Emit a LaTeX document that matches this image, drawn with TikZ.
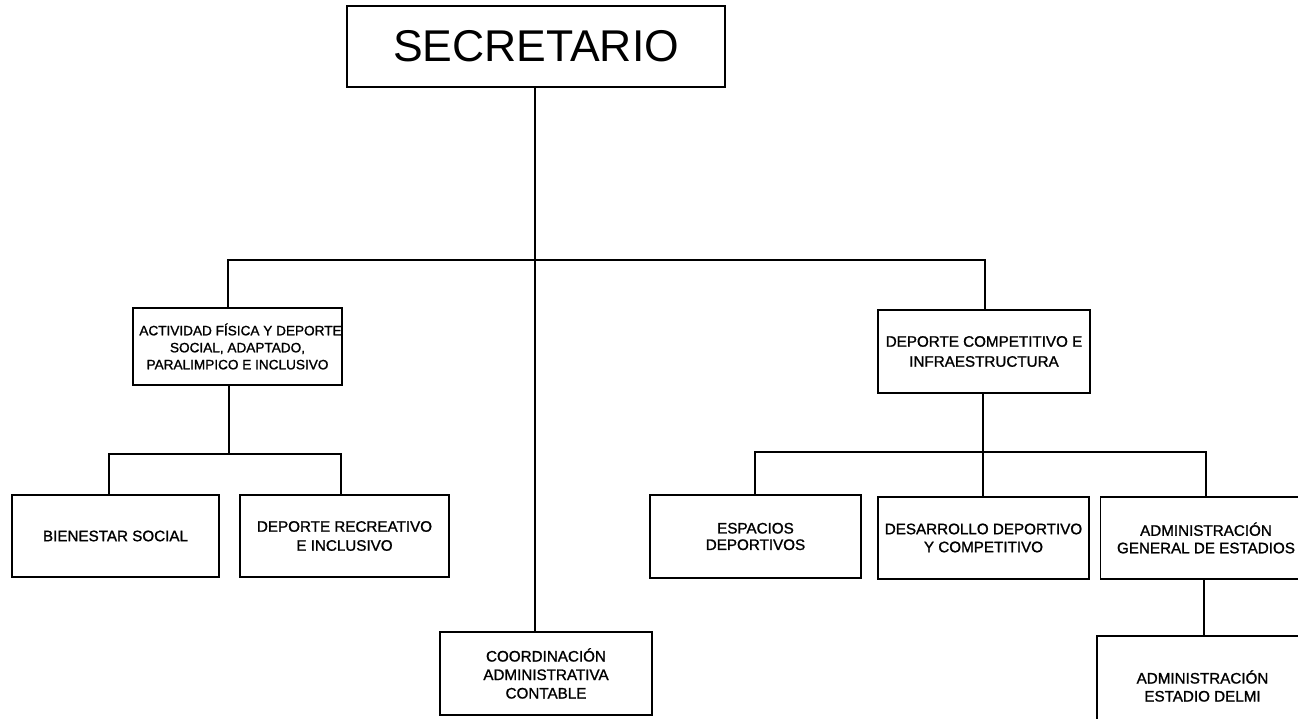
\documentclass[tikz,border=0pt]{standalone}
\usepackage{fontspec}
\setmainfont{Liberation Sans}
\newfontfamily\medfont[FakeBold=1.2]{Liberation Sans}
\begin{document}
\begin{tikzpicture}[x=1pt,y=-1pt,
  box/.style={draw, line width=1.3pt, inner sep=0pt, align=center, fill=white},
  conn/.style={draw, line width=1.3pt},
  txt/.style={font=\medfont\fontsize{15.2}{18}\selectfont}]
\useasboundingbox (0,0) rectangle (1298,719);
\clip (0,0) rectangle (1298,719);
\fill[white] (0,0) rectangle (1298,719);

% nodes
\node[box, minimum width=378pt, minimum height=81pt, font=\fontsize{44.5}{50}\selectfont] (sec) at (536,46.5) {SECRETARIO};

\node[box, minimum width=209pt, minimum height=77pt, font=\medfont\fontsize{13.6}{17}\selectfont] (act) at (237.5,346.5) {\hspace*{6pt}ACTIVIDAD FÍSICA Y DEPORTE\\ SOCIAL, ADAPTADO,\\ PARALIMPICO E INCLUSIVO};

\node[box, minimum width=207pt, minimum height=82pt, txt] (bien) at (115.5,536) {BIENESTAR SOCIAL};
\node[box, minimum width=209pt, minimum height=82pt, font=\medfont\fontsize{15.2}{19}\selectfont] (drec) at (344.5,536) {DEPORTE RECREATIVO\\ E INCLUSIVO};

\node[box, minimum width=212pt, minimum height=83pt, font=\medfont\fontsize{15.2}{20}\selectfont] (dcomp) at (984,351.5) {DEPORTE COMPETITIVO E\\ INFRAESTRUCTURA};

\node[box, minimum width=211pt, minimum height=83pt, font=\medfont\fontsize{15.2}{16.5}\selectfont] (esp) at (755.5,536.5) {ESPACIOS\\ DEPORTIVOS};
\node[box, minimum width=211pt, minimum height=82pt, txt] (des) at (983.5,538) {DESARROLLO DEPORTIVO\\ Y COMPETITIVO};
\node[box, minimum width=211pt, minimum height=82pt, font=\medfont\fontsize{15.2}{17.5}\selectfont] (age) at (1206,538) {ADMINISTRACIÓN\\ GENERAL DE ESTADIOS};
\node[box, minimum width=211pt, minimum height=100pt, txt] (edel) at (1202.5,686) {ADMINISTRACIÓN\\ ESTADIO DELMI};

\node[box, minimum width=212pt, minimum height=83pt, font=\medfont\fontsize{15.2}{18.5}\selectfont] (coord) at (546,673.5) {COORDINACIÓN\\ ADMINISTRATIVA\\ CONTABLE};

% junction coordinates
\coordinate (trunk) at (535,260);
\coordinate (jl) at (228,260);
\coordinate (jr) at (985,260);
\coordinate (ja) at (229,454);
\coordinate (b2l) at (109,454);
\coordinate (b2r) at (341,454);
\coordinate (jd) at (983,452);
\coordinate (b3l) at (755,452);
\coordinate (b3r) at (1206,452);
\coordinate (jg) at (1204,579);

% connectors
\draw[conn] (sec.south -| trunk) -- (coord.north -| trunk);
\draw[conn] (act.north -| jl) -- (jl) -- (jr) -- (dcomp.north -| jr);
\draw[conn] (act.south -| ja) -- (ja);
\draw[conn] (bien.north -| b2l) -- (b2l) -- (b2r) -- (drec.north -| b2r);
\draw[conn] (dcomp.south -| jd) -- (des.north -| jd);
\draw[conn] (esp.north -| b3l) -- (b3l) -- (b3r) -- (age.north -| b3r);
\draw[conn] (age.south -| jg) -- (edel.north -| jg);
\end{tikzpicture}
\end{document}
